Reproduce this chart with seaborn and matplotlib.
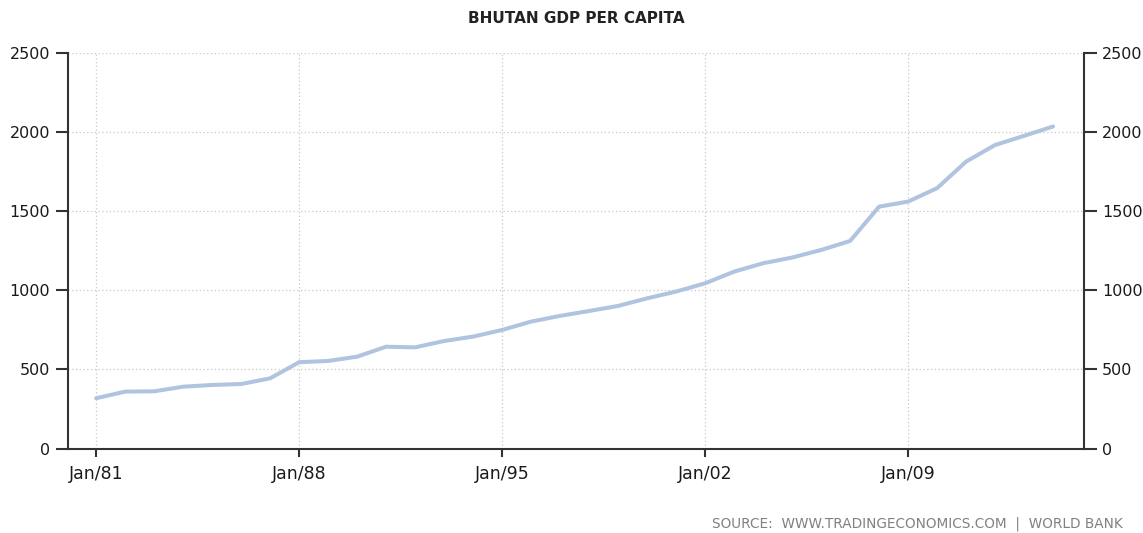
import matplotlib
matplotlib.use("Agg")
import matplotlib.pyplot as plt
import numpy as np
import pandas as pd
import seaborn as sns

# Bhutan GDP per capita (constant USD), annual
years = list(range(1981, 2015))
gdp_per_capita = [
    318, 360, 362, 391, 402, 408, 444, 546, 554, 581,
    644, 640, 680, 708, 750, 803, 839, 870, 902, 950,
    993, 1045, 1119, 1172, 1208, 1256, 1313, 1530, 1562, 1647,
    1815, 1920, 1978, 2037,
]
tick_years = [1981, 1988, 1995, 2002, 2009]
tick_labels = ["Jan/81", "Jan/88", "Jan/95", "Jan/02", "Jan/09"]
y_ticks = [0, 500, 1000, 1500, 2000, 2500]

df = pd.DataFrame({"year": years, "gdp": gdp_per_capita})

sns.set_style("ticks")
plt.rcParams["font.family"] = ["DejaVu Sans"]

fig = plt.figure(figsize=(11.43, 5.33), dpi=100)
ax = fig.add_axes([0.0595, 0.1585, 0.889, 0.7415])

sns.lineplot(data=df, x="year", y="gdp", ax=ax, color="#b0c4e0",
             linewidth=2.9, solid_joinstyle="round", solid_capstyle="round")

ax.set_xlim(1980.03, 2015.07)
ax.set_ylim(0, 2500)
ax.set_xticks(tick_years)
ax.set_xticklabels(tick_labels)
ax.set_yticks(y_ticks)
ax.set_xlabel("")
ax.set_ylabel("")

ax.grid(True, color="#c8c8c8", linestyle=(0, (1, 2)), linewidth=0.9)

for side in ["left", "right", "bottom"]:
    ax.spines[side].set_visible(True)
    ax.spines[side].set_color("#333333")
    ax.spines[side].set_linewidth(1.5)
ax.spines["top"].set_visible(False)

ax.tick_params(axis="y", which="both", left=True, right=True,
               labelleft=True, labelright=True, length=9, width=1.5,
               color="#333333", labelsize=11.5, labelcolor="#1a1a1a", pad=4)
ax.tick_params(axis="x", length=6, width=1.5, color="#333333",
               labelsize=12.5, labelcolor="#1a1a1a", pad=6)
for lbl in ax.get_xticklabels() + ax.get_yticklabels():
    lbl.set_fontweight("medium")

ax.set_title("BHUTAN GDP PER CAPITA", fontsize=11, fontweight="bold",
             color="#222222", pad=22)

fig.text(1123 / 1143, 1 - 524 / 533,
         "SOURCE:  WWW.TRADINGECONOMICS.COM  |  WORLD BANK",
         ha="right", va="center", fontsize=9.8, color="#808080")

fig.savefig("out.png", dpi=100)
